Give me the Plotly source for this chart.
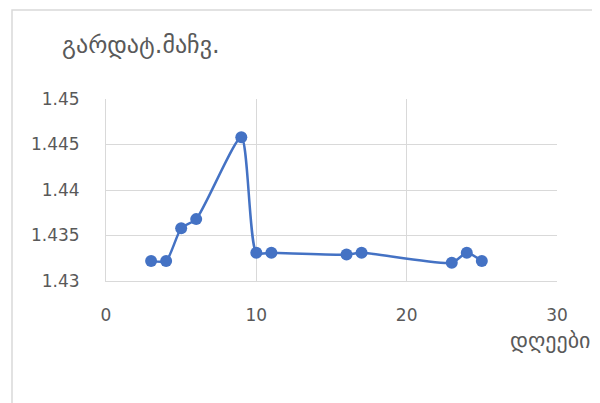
import plotly.graph_objects as go

# დღეები / გარდატეხის მაჩვენებელი
days = [3, 4, 5, 6, 9, 10, 11, 16, 17, 23, 24, 25]
index_vals = [1.4322, 1.4322, 1.4358, 1.4368, 1.4458, 1.4331, 1.4331,
              1.4329, 1.4331, 1.4320, 1.4331, 1.4322]

x_ticks = [0, 10, 20, 30]
y_ticks = [1.43, 1.435, 1.44, 1.445, 1.45]
y_tick_text = ["1.43", "1.435", "1.44", "1.445", "1.45"]

blue = "#4472C4"
grid = "#d9d9d9"
txt = "#595959"

fig = go.Figure()
fig.add_trace(go.Scatter(
    x=days, y=index_vals,
    mode="lines+markers",
    line=dict(color=blue, width=2.5, shape="spline", smoothing=0.6),
    marker=dict(color=blue, size=12),
    showlegend=False,
))

fig.update_xaxes(
    range=[0, 30], tickvals=x_ticks, showgrid=True, gridcolor=grid, gridwidth=1,
    showline=True, linecolor=grid, linewidth=1, zeroline=False,
    tickfont=dict(family="DejaVu Sans", size=17, color=txt), ticklabelstandoff=19,
)
fig.update_yaxes(
    range=[1.43, 1.45], tickvals=y_ticks, ticktext=y_tick_text, showgrid=True,
    gridcolor=grid, gridwidth=1, showline=True, linecolor=grid, linewidth=1,
    zeroline=False, tickfont=dict(family="DejaVu Sans", size=17, color=txt),
    ticklabelstandoff=22,
)

# outer chart border (page body adds an 8px offset)
fig.add_shape(type="rect", xref="paper", yref="paper",
              x0=-0.2084, x1=1.0909, y0=-0.72, y1=1.489,
              line=dict(color=grid, width=1.5), layer="below")

fig.add_annotation(text="გარდატ.მაჩვ.", xref="paper", yref="paper",
                   x=0.078, y=1.295, xanchor="center", yanchor="middle",
                   showarrow=False,
                   font=dict(family="DejaVu Sans", size=24, color=txt))
fig.add_annotation(text="დღეები", xref="paper", yref="paper",
                   x=1.0776, y=-0.325, xanchor="right", yanchor="middle",
                   showarrow=False,
                   font=dict(family="DejaVu Sans", size=22, color=txt))

fig.update_layout(
    width=600, height=403,
    margin=dict(l=98, r=51, t=91, b=130),
    plot_bgcolor="white", paper_bgcolor="white",
)

fig.write_html("out.html")
